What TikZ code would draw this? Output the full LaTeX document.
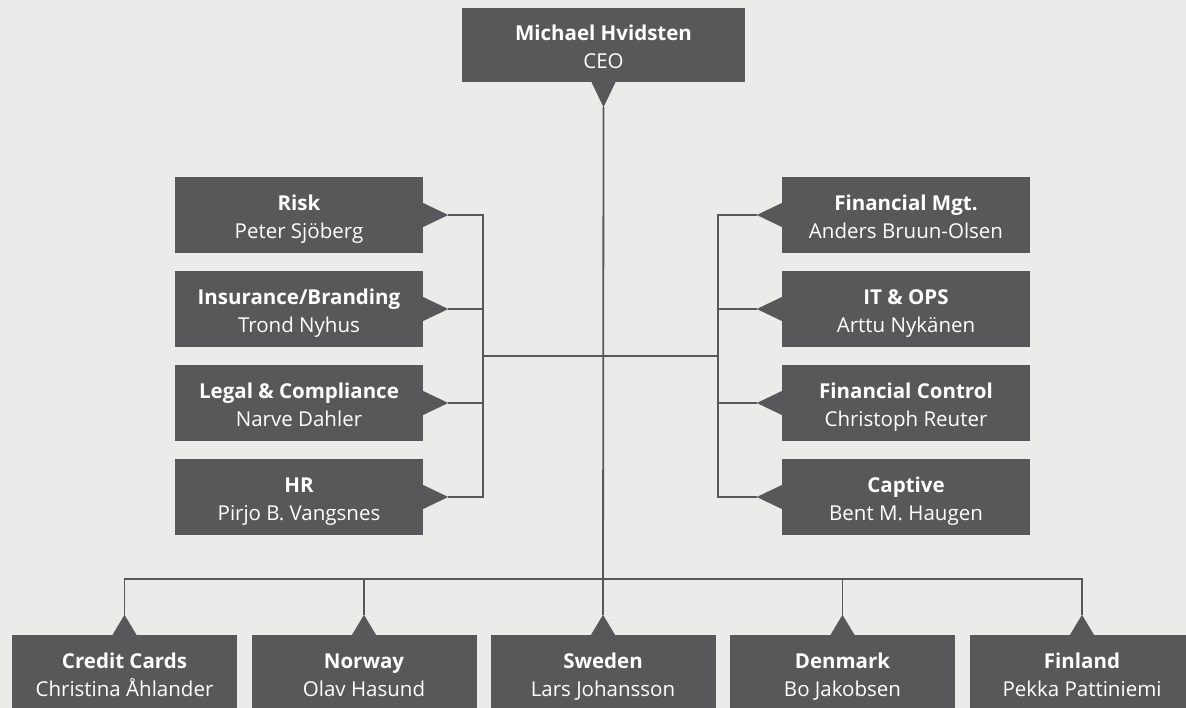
\documentclass[tikz,border=0pt]{standalone}
\usepackage{fontspec}
\setmainfont{Open Sans}
\definecolor{chartbg}{HTML}{EBEBE9}
\definecolor{boxgray}{HTML}{58585A}
\newcommand{\unittext}[2]{\rule{0pt}{27pt}\textbf{#1}\\#2\strut}

\begin{document}
\begin{tikzpicture}[x=1pt, y=-1pt,
            unit/.style={fill=boxgray, text=white, align=center, inner sep=0pt,
                minimum width=248pt, minimum height=76pt,
                font=\fontsize{20.5}{28}\selectfont},
            country/.style={unit, minimum width=225pt},
            link/.style={draw=boxgray, line width=1.8pt}]
        \fill[chartbg] (0,0) rectangle (1186,708);
        \useasboundingbox (0,0) rectangle (1186,708);

        \node[unit, minimum width=283pt, minimum height=74pt] (ceo) at (603.5,45) {\unittext{Michael Hvidsten}{CEO}};

        \node[unit] (risk) at (299,215) {\unittext{Risk}{Peter Sjöberg}};
        \node[unit] (insurance) at (299,309) {\unittext{Insurance/Branding}{Trond Nyhus}};
        \node[unit] (legal) at (299,403) {\unittext{Legal \& Compliance}{Narve Dahler}};
        \node[unit] (hr) at (299,497) {\unittext{HR}{Pirjo B. Vangsnes}};

        \node[unit] (finmgt) at (906,215) {\unittext{Financial Mgt.}{Anders Bruun-Olsen}};
        \node[unit] (itops) at (906,309) {\unittext{IT \& OPS}{Arttu Nykänen}};
        \node[unit] (fincontrol) at (906,403) {\unittext{Financial Control}{Christoph Reuter}};
        \node[unit] (captive) at (906,497) {\unittext{Captive}{Bent M. Haugen}};

        \node[country] (cards) at (124.5,673) {\unittext{Credit Cards}{Christina Åhlander}};
        \node[country] (norway) at (364,673) {\unittext{Norway}{Olav Hasund}};
        \node[country] (sweden) at (603,673) {\unittext{Sweden}{Lars Johansson}};
        \node[country] (denmark) at (842.5,673) {\unittext{Denmark}{Bo Jakobsen}};
        \node[country] (finland) at (1082,673) {\unittext{Finland}{Pekka Pattiniemi}};

        % pointers
        \fill[boxgray] ([xshift=-12pt]ceo.south) -- ([yshift=-25pt]ceo.south) coordinate (ceo tip) -- ([xshift=12pt]ceo.south) -- cycle;
        \fill[boxgray] ([yshift=12pt]risk.east) -- ([xshift=25pt]risk.east) coordinate (risk tip) -- ([yshift=-12pt]risk.east) -- cycle;
        \fill[boxgray] ([yshift=12pt]insurance.east) -- ([xshift=25pt]insurance.east) coordinate (insurance tip) -- ([yshift=-12pt]insurance.east) -- cycle;
        \fill[boxgray] ([yshift=12pt]legal.east) -- ([xshift=25pt]legal.east) coordinate (legal tip) -- ([yshift=-12pt]legal.east) -- cycle;
        \fill[boxgray] ([yshift=12pt]hr.east) -- ([xshift=25pt]hr.east) coordinate (hr tip) -- ([yshift=-12pt]hr.east) -- cycle;
        \fill[boxgray] ([yshift=12pt]finmgt.west) -- ([xshift=-25pt]finmgt.west) coordinate (finmgt tip) -- ([yshift=-12pt]finmgt.west) -- cycle;
        \fill[boxgray] ([yshift=12pt]itops.west) -- ([xshift=-25pt]itops.west) coordinate (itops tip) -- ([yshift=-12pt]itops.west) -- cycle;
        \fill[boxgray] ([yshift=12pt]fincontrol.west) -- ([xshift=-25pt]fincontrol.west) coordinate (fincontrol tip) -- ([yshift=-12pt]fincontrol.west) -- cycle;
        \fill[boxgray] ([yshift=12pt]captive.west) -- ([xshift=-25pt]captive.west) coordinate (captive tip) -- ([yshift=-12pt]captive.west) -- cycle;
        \fill[boxgray] ([xshift=-12pt]cards.north) -- ([yshift=20pt]cards.north) coordinate (cards tip) -- ([xshift=12pt]cards.north) -- cycle;
        \fill[boxgray] ([xshift=-12pt]norway.north) -- ([yshift=20pt]norway.north) coordinate (norway tip) -- ([xshift=12pt]norway.north) -- cycle;
        \fill[boxgray] ([xshift=-12pt]sweden.north) -- ([yshift=20pt]sweden.north) coordinate (sweden tip) -- ([xshift=12pt]sweden.north) -- cycle;
        \fill[boxgray] ([xshift=-12pt]denmark.north) -- ([yshift=20pt]denmark.north) coordinate (denmark tip) -- ([xshift=12pt]denmark.north) -- cycle;
        \fill[boxgray] ([xshift=-12pt]finland.north) -- ([yshift=20pt]finland.north) coordinate (finland tip) -- ([xshift=12pt]finland.north) -- cycle;

        % lines
        \coordinate (lbus) at (483,356);
        \coordinate (rbus) at (718,356);
        \coordinate (bbus) at (603,579);
        \draw[link] (ceo tip) -- (sweden tip);
        \draw[link] (risk tip) -| (lbus) |- (hr tip);
        \draw[link] (insurance tip) -- (insurance tip -| lbus);
        \draw[link] (legal tip) -- (legal tip -| lbus);
        \draw[link] (finmgt tip) -| (rbus) |- (captive tip);
        \draw[link] (itops tip) -- (itops tip -| rbus);
        \draw[link] (fincontrol tip) -- (fincontrol tip -| rbus);
        \draw[link] (lbus) -- (rbus);
        \draw[link] (cards tip) -- (cards tip |- bbus) -- (finland tip |- bbus) -- (finland tip);
        \draw[link] (norway tip) -- (norway tip |- bbus);
        \draw[link] (denmark tip) -- (denmark tip |- bbus);
\end{tikzpicture}
\end{document}
